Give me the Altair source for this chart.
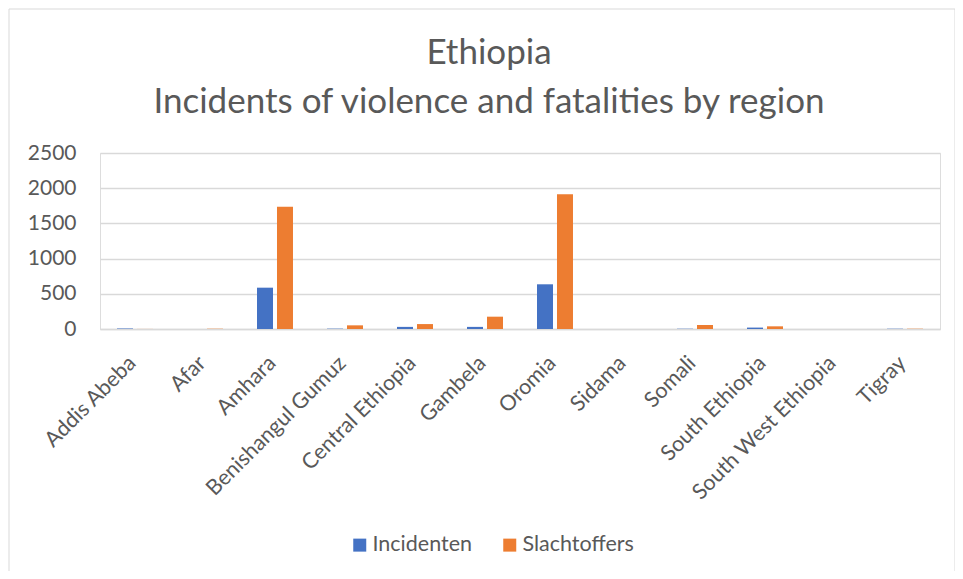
import altair as alt
import pandas as pd

regions = ["Addis Abeba", "Afar", "Amhara", "Benishangul Gumuz", "Central Ethiopia",
           "Gambela", "Oromia", "Sidama", "Somali", "South Ethiopia",
           "South West Ethiopia", "Tigray"]
incidenten = [8, 0, 587, 5, 30, 30, 635, 0, 4, 20, 0, 4]
slachtoffers = [1, 4, 1737, 52, 70, 175, 1913, 0, 57, 38, 0, 4]
series = ["Incidenten", "Slachtoffers"]
colors = ["#4472C4", "#ED7D31"]
y_ticks = [0, 500, 1000, 1500, 2000, 2500]

rows = []
for r, a, b in zip(regions, incidenten, slachtoffers):
    rows.append({"region": r, "serie": series[0], "value": a})
    rows.append({"region": r, "serie": series[1], "value": b})
df = pd.DataFrame(rows)

FONT = "Lato"
GREY = "#595959"

bars = alt.Chart(df).mark_bar().encode(
    x=alt.X("region:N", sort=regions, title=None,
            scale=alt.Scale(paddingInner=0.486, paddingOuter=0.243),
            axis=alt.Axis(labelAngle=-45, labelFontSize=21.5, labelColor=GREY,
                          labelFont=FONT, ticks=False, domainColor="#d9d9d9",
                          labelAlign="right", labelBaseline="top", labelLimit=400,
                          labelOffset=-10, domainWidth=1.5, labelPadding=23)),
    xOffset=alt.XOffset("serie:N", sort=series,
                        scale=alt.Scale(paddingInner=0.2, paddingOuter=0)),
    y=alt.Y("value:Q", title=None,
            scale=alt.Scale(domain=[0, 2500], nice=False),
            axis=alt.Axis(values=y_ticks, format="d", domain=False, ticks=False,
                          labelFontSize=21, labelColor=GREY, labelFont=FONT,
                          labelPadding=24, gridColor="#d9d9d9", gridWidth=1.5)),
    color=alt.Color("serie:N", sort=series,
                    scale=alt.Scale(domain=series, range=colors),
                    legend=alt.Legend(title=None, orient="none", direction="horizontal",
                                      legendX=249, legendY=381, symbolType="square",
                                      symbolSize=169, symbolStrokeWidth=0,
                                      labelFontSize=21.5, labelColor=GREY,
                                      labelFont=FONT, columnPadding=26,
                                      labelOffset=2)),
)

border = alt.Chart(pd.DataFrame({"a": [0]})).mark_rect(
    fill=None, stroke="#d9d9d9", strokeWidth=1
).encode(x=alt.value(-91), x2=alt.value(855), y=alt.value(-144), y2=alt.value(424))

chart = alt.layer(border, bars).properties(
    width=840, height=176,
    autosize=alt.AutoSizeParams(type="none"),
    padding={"left": 92, "top": 145, "right": 15, "bottom": 242},
    title=alt.TitleParams(text=["Ethiopia", "Incidents of violence and fatalities by region"],
                          fontSize=35, font=FONT, color=GREY, fontWeight="normal",
                          anchor="middle", dx=-31, lineHeight=49, offset=-111),
).configure_view(stroke=None).configure(background="white")

chart.save("out.html", embed_options={"renderer": "svg", "actions": False})
